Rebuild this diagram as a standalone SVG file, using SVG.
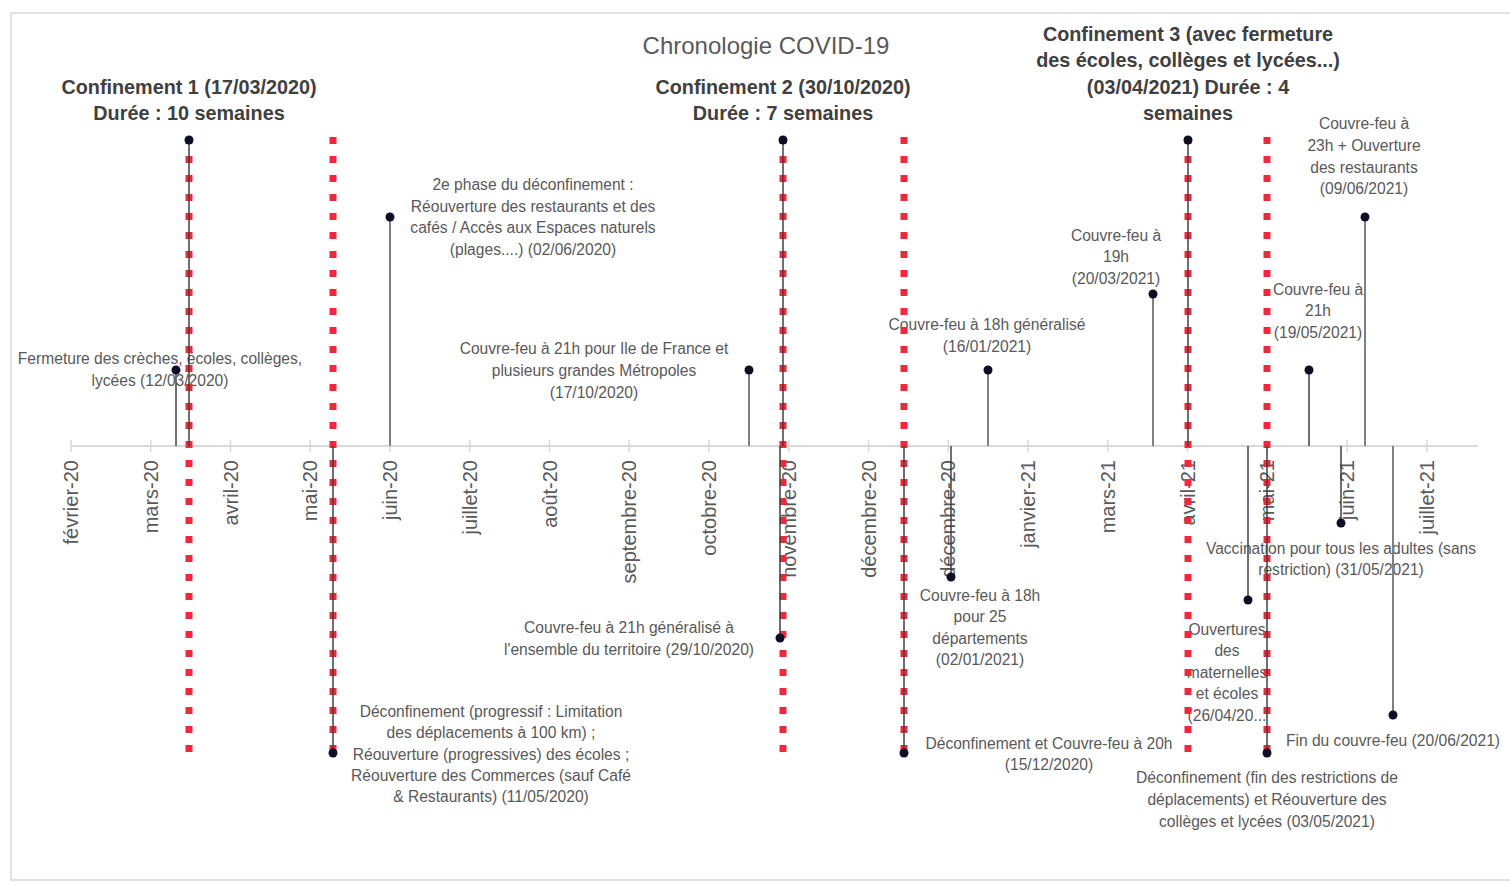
<svg xmlns="http://www.w3.org/2000/svg" width="1510" height="884" viewBox="0 0 1510 884">
<defs>
<style>
.lbl{font-family:"Liberation Sans",Arial,sans-serif;font-size:15.6px;fill:#595959;text-anchor:middle}
.bold{font-family:"Liberation Sans",Arial,sans-serif;font-size:19.8px;font-weight:bold;fill:#404040;text-anchor:middle}
.ax{font-family:"Liberation Sans",Arial,sans-serif;font-size:20px;fill:#595959;text-anchor:end}
.title{font-family:"Liberation Sans",Arial,sans-serif;font-size:24px;fill:#595959;text-anchor:middle}
.red{stroke:#f0283c;stroke-width:7;stroke-dasharray:7 12;fill:none}
.stem{stroke:#808080;stroke-width:2}
.cstem{stroke:#404040;stroke-width:1.5}
.dot{fill:#0d0d26}
.tick{stroke:#d9d9d9;stroke-width:1.5}
</style>
</defs>
<rect x="0" y="0" width="1510" height="884" fill="#ffffff"/>
<rect x="11" y="13" width="1510" height="867" fill="#ffffff" stroke="#d9d9d9" stroke-width="1.5"/>
<text class="title" x="766" y="54">Chronologie COVID-19</text>

<g id="axis">
<line x1="71" y1="446" x2="1478" y2="446" stroke="#d9d9d9" stroke-width="2"/>
<line class="tick" x1="71" y1="440" x2="71" y2="452"/>
<line class="tick" x1="150.75" y1="440" x2="150.75" y2="452"/>
<line class="tick" x1="230.5" y1="440" x2="230.5" y2="452"/>
<line class="tick" x1="310.25" y1="440" x2="310.25" y2="452"/>
<line class="tick" x1="390" y1="440" x2="390" y2="452"/>
<line class="tick" x1="469.75" y1="440" x2="469.75" y2="452"/>
<line class="tick" x1="549.5" y1="440" x2="549.5" y2="452"/>
<line class="tick" x1="629.25" y1="440" x2="629.25" y2="452"/>
<line class="tick" x1="709" y1="440" x2="709" y2="452"/>
<line class="tick" x1="788.75" y1="440" x2="788.75" y2="452"/>
<line class="tick" x1="868.5" y1="440" x2="868.5" y2="452"/>
<line class="tick" x1="948.25" y1="440" x2="948.25" y2="452"/>
<line class="tick" x1="1028" y1="440" x2="1028" y2="452"/>
<line class="tick" x1="1107.75" y1="440" x2="1107.75" y2="452"/>
<line class="tick" x1="1187.5" y1="440" x2="1187.5" y2="452"/>
<line class="tick" x1="1267.25" y1="440" x2="1267.25" y2="452"/>
<line class="tick" x1="1347" y1="440" x2="1347" y2="452"/>
<line class="tick" x1="1426.75" y1="440" x2="1426.75" y2="452"/>
<text class="ax" transform="translate(78,460) rotate(-90)">février-20</text>
<text class="ax" transform="translate(157.75,460) rotate(-90)">mars-20</text>
<text class="ax" transform="translate(237.5,460) rotate(-90)">avril-20</text>
<text class="ax" transform="translate(317.25,460) rotate(-90)">mai-20</text>
<text class="ax" transform="translate(397,460) rotate(-90)">juin-20</text>
<text class="ax" transform="translate(476.75,460) rotate(-90)">juillet-20</text>
<text class="ax" transform="translate(556.5,460) rotate(-90)">août-20</text>
<text class="ax" transform="translate(636.25,460) rotate(-90)">septembre-20</text>
<text class="ax" transform="translate(716,460) rotate(-90)">octobre-20</text>
<text class="ax" transform="translate(795.75,460) rotate(-90)">novembre-20</text>
<text class="ax" transform="translate(875.5,460) rotate(-90)">décembre-20</text>
<text class="ax" transform="translate(955.25,460) rotate(-90)">décembre-20</text>
<text class="ax" transform="translate(1035,460) rotate(-90)">janvier-21</text>
<text class="ax" transform="translate(1114.75,460) rotate(-90)">mars-21</text>
<text class="ax" transform="translate(1194.5,460) rotate(-90)">avril-21</text>
<text class="ax" transform="translate(1274.25,460) rotate(-90)">mai-21</text>
<text class="ax" transform="translate(1354,460) rotate(-90)">juin-21</text>
<text class="ax" transform="translate(1433.75,460) rotate(-90)">juillet-21</text>
</g>

<g id="labels">
<g id="n-fermeture"><text class="lbl" x="160" y="364">Fermeture des crèches, écoles, collèges,</text><text class="lbl" x="160" y="386">lycées (12/03/2020)</text></g>
<g id="n-c1"><text class="bold" x="189" y="94">Confinement 1 (17/03/2020)</text><text class="bold" x="189" y="120">Durée : 10 semaines</text></g>
<g id="n-deconf1"><text class="lbl" x="491" y="717">Déconfinement (progressif : Limitation</text><text class="lbl" x="491" y="738">des déplacements à 100 km) ;</text><text class="lbl" x="491" y="760">Réouverture (progressives) des écoles ;</text><text class="lbl" x="491" y="781">Réouverture des Commerces (sauf Café</text><text class="lbl" x="491" y="802">&amp; Restaurants) (11/05/2020)</text></g>
<g id="n-phase2"><text class="lbl" x="533" y="190">2e phase du déconfinement :</text><text class="lbl" x="533" y="212">Réouverture des restaurants et des</text><text class="lbl" x="533" y="233">cafés / Accès aux Espaces naturels</text><text class="lbl" x="533" y="255">(plages....) (02/06/2020)</text></g>
<g id="n-cf21idf"><text class="lbl" x="594" y="354">Couvre-feu à 21h pour Ile de France et</text><text class="lbl" x="594" y="376">plusieurs grandes Métropoles</text><text class="lbl" x="594" y="398">(17/10/2020)</text></g>
<g id="n-cf21gen"><text class="lbl" x="629" y="633">Couvre-feu à 21h généralisé à</text><text class="lbl" x="629" y="655">l'ensemble du territoire (29/10/2020)</text></g>
<g id="n-c2"><text class="bold" x="783" y="94">Confinement 2 (30/10/2020)</text><text class="bold" x="783" y="120">Durée : 7 semaines</text></g>
<g id="n-deconf2"><text class="lbl" x="1049" y="749">Déconfinement et Couvre-feu à 20h</text><text class="lbl" x="1049" y="770">(15/12/2020)</text></g>
<g id="n-cf18d25"><text class="lbl" x="980" y="601">Couvre-feu à 18h</text><text class="lbl" x="980" y="622">pour 25</text><text class="lbl" x="980" y="644">départements</text><text class="lbl" x="980" y="665">(02/01/2021)</text></g>
<g id="n-cf18gen"><text class="lbl" x="987" y="330">Couvre-feu à 18h généralisé</text><text class="lbl" x="987" y="352">(16/01/2021)</text></g>
<g id="n-cf19"><text class="lbl" x="1116" y="241">Couvre-feu à</text><text class="lbl" x="1116" y="262">19h</text><text class="lbl" x="1116" y="284">(20/03/2021)</text></g>
<g id="n-c3"><text class="bold" x="1188" y="41">Confinement 3 (avec fermeture</text><text class="bold" x="1188" y="67">des écoles, collèges et lycées...)</text><text class="bold" x="1188" y="94">(03/04/2021) Durée : 4</text><text class="bold" x="1188" y="120">semaines</text></g>
<g id="n-maternelles"><text class="lbl" x="1227" y="635">Ouvertures</text><text class="lbl" x="1227" y="656">des</text><text class="lbl" x="1227" y="678">maternelles</text><text class="lbl" x="1227" y="699">et écoles</text><text class="lbl" x="1227" y="721">(26/04/20...</text></g>
<g id="n-deconf3"><text class="lbl" x="1267" y="783">Déconfinement (fin des restrictions de</text><text class="lbl" x="1267" y="805">déplacements) et Réouverture des</text><text class="lbl" x="1267" y="827">collèges et lycées (03/05/2021)</text></g>
<g id="n-cf21"><text class="lbl" x="1318" y="295">Couvre-feu à</text><text class="lbl" x="1318" y="316">21h</text><text class="lbl" x="1318" y="338">(19/05/2021)</text></g>
<g id="n-vaccin"><text class="lbl" x="1341" y="554">Vaccination pour tous les adultes (sans</text><text class="lbl" x="1341" y="575">restriction) (31/05/2021)</text></g>
<g id="n-cf23"><text class="lbl" x="1364" y="129">Couvre-feu à</text><text class="lbl" x="1364" y="151">23h + Ouverture</text><text class="lbl" x="1364" y="173">des restaurants</text><text class="lbl" x="1364" y="194">(09/06/2021)</text></g>
<g id="n-fin"><text class="lbl" x="1393" y="746">Fin du couvre-feu (20/06/2021)</text></g>
</g>

<g id="periods">
<line class="red" x1="189" y1="137" x2="189" y2="760"/>
<line class="red" x1="333" y1="137" x2="333" y2="760"/>
<line class="red" x1="783" y1="137" x2="783" y2="760"/>
<line class="red" x1="904" y1="137" x2="904" y2="760"/>
<line class="red" x1="1188" y1="137" x2="1188" y2="760"/>
<line class="red" x1="1267" y1="137" x2="1267" y2="760"/>
</g>

<g id="connectors">
<line class="cstem" x1="176" y1="370" x2="176" y2="446"/>
<line class="cstem" x1="189" y1="140" x2="189" y2="446"/>
<line class="cstem" x1="333" y1="446" x2="333" y2="753"/>
<line class="stem" x1="390" y1="217" x2="390" y2="446"/>
<line class="stem" x1="749" y1="370" x2="749" y2="446"/>
<line class="cstem" x1="780" y1="446" x2="780" y2="638"/>
<line class="cstem" x1="783" y1="140" x2="783" y2="446"/>
<line class="cstem" x1="904" y1="446" x2="904" y2="753"/>
<line class="cstem" x1="951" y1="446" x2="951" y2="577"/>
<line class="stem" x1="988" y1="370" x2="988" y2="446"/>
<line class="stem" x1="1153" y1="294" x2="1153" y2="446"/>
<line class="cstem" x1="1188" y1="140" x2="1188" y2="446"/>
<line class="cstem" x1="1248" y1="446" x2="1248" y2="600"/>
<line class="cstem" x1="1267" y1="446" x2="1267" y2="753"/>
<line class="cstem" x1="1309" y1="370" x2="1309" y2="446"/>
<line class="cstem" x1="1341" y1="446" x2="1341" y2="523"/>
<line class="stem" x1="1365" y1="217" x2="1365" y2="446"/>
<line class="stem" x1="1393" y1="446" x2="1393" y2="715"/>
</g>

<g id="markers">
<circle class="dot" cx="176" cy="370" r="4.5"/>
<circle class="dot" cx="189" cy="140" r="4.5"/>
<circle class="dot" cx="333" cy="753" r="4.5"/>
<circle class="dot" cx="390" cy="217" r="4.5"/>
<circle class="dot" cx="749" cy="370" r="4.5"/>
<circle class="dot" cx="780" cy="638" r="4.5"/>
<circle class="dot" cx="783" cy="140" r="4.5"/>
<circle class="dot" cx="904" cy="753" r="4.5"/>
<circle class="dot" cx="951" cy="577" r="4.5"/>
<circle class="dot" cx="988" cy="370" r="4.5"/>
<circle class="dot" cx="1153" cy="294" r="4.5"/>
<circle class="dot" cx="1188" cy="140" r="4.5"/>
<circle class="dot" cx="1248" cy="600" r="4.5"/>
<circle class="dot" cx="1267" cy="753" r="4.5"/>
<circle class="dot" cx="1309" cy="370" r="4.5"/>
<circle class="dot" cx="1341" cy="523" r="4.5"/>
<circle class="dot" cx="1365" cy="217" r="4.5"/>
<circle class="dot" cx="1393" cy="715" r="4.5"/>
</g>
</svg>
